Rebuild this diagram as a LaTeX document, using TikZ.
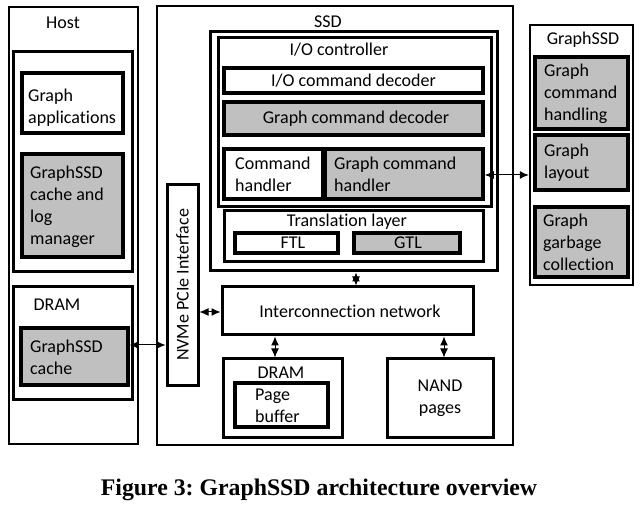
\documentclass[tikz,border=0pt]{standalone}
\usepackage{fontspec}
\setmainfont{Carlito}[Ligatures=NoCommon]
\newfontfamily\capfont{Liberation Serif}
\usetikzlibrary{arrows.meta,fit}
\definecolor{boxgray}{RGB}{192,192,192}
\frenchspacing
\begin{document}
\begin{tikzpicture}[x=1pt,y=-1pt,
  outerbox/.style={draw, line width=2.4pt, inner sep=0pt},
  midbox/.style={draw, line width=3pt, inner sep=0pt},
  leafbox/.style={draw, line width=3.6pt, inner sep=0pt, fill=white},
  graybox/.style={leafbox, fill=boxgray},
  lbl/.style={font=\fontsize{18}{22}\selectfont, inner sep=0pt, align=left},
  biarrow/.style={{Latex[length=9pt,width=8pt]}-{Latex[length=9pt,width=8pt]}, line width=1pt}
]
\useasboundingbox (0,0) rectangle (641,508);

% ---------------- Host ----------------
\node[outerbox, fit={(9,7) (138,444)}] (host) {};
\node[lbl] (hostlbl) at (63,23) {Host};
\node[midbox, fit={(13,52) (132,272)}] (hostsw) {};
\node[leafbox, fit={(22,73) (123,133)}] (gapps) {};
\node[lbl, anchor=west] (gappslbl) at (28,108) {Graph\\applications};
\node[graybox, fit={(22,154) (123,257)}] (gclog) {};
\node[lbl, anchor=west] (gcloglbl) at (30,207) {GraphSSD\\cache and\\log\\manager};
\node[midbox, fit={(13,287) (132,399)}] (hdram) {};
\node[lbl] (hdramlbl) at (57,305) {DRAM};
\node[graybox, fit={(21,328) (128,385)}] (gcache) {};
\node[lbl, anchor=west] (gcachelbl) at (30,357) {GraphSSD\\cache};

% ---------------- SSD ----------------
\node[outerbox, fit={(157,6) (513,445)}] (ssd) {};
\node[lbl] (ssdlbl) at (328,22) {SSD};
\node[midbox, fit={(210,32) (497,271)}] (iocout) {};
\node[midbox, fit={(218,38) (491,207)}] (iocin) {};
\node[lbl] (ioclbl) at (339,50) {I/O controller};
\node[leafbox, fit={(224,68) (483,93)}] (iodec) {};
\node[lbl] (iodeclbl) at (353.5,80.5) {I/O command decoder};
\node[graybox, fit={(224,102) (483,135)}] (gdec) {};
\node[lbl] (gdeclbl) at (356,118.5) {Graph command decoder};
\node[leafbox, fit={(224,149) (323,199)}] (cmdh) {};
\node[lbl, anchor=west] (cmdhlbl) at (235,174) {Command\\handler};
\node[graybox, fit={(325,149) (483,199)}] (gcmdh) {};
\node[lbl, anchor=west] (gcmdhlbl) at (334,174) {Graph command\\handler};
\node[midbox, fit={(224,211) (483,262)}] (tl) {};
\node[lbl] (tllbl) at (347,222) {Translation layer};
\node[leafbox, fit={(235,233) (338,253)}] (ftl) {};
\node[lbl] (ftllbl) at (293,243) {FTL};
\node[graybox, fit={(354,233) (460,253)}] (gtl) {};
\node[lbl] (gtllbl) at (408,243) {GTL};

\node[midbox, fit={(167,185) (198,385)}] (nvme) {};
\node[lbl, rotate=90] (nvmelbl) at (182.5,285) {NVMe PCIe Interface};

\node[midbox, fit={(222,287) (473,335)}] (icn) {};
\node[lbl] (icnlbl) at (350,311) {Interconnection network};

\node[midbox, fit={(223,359) (342,437)}] (sdram) {};
\node[lbl] (sdramlbl) at (281,373) {DRAM};
\node[leafbox, fit={(235,383) (328,427)}] (pbuf) {};
\node[lbl, anchor=west] (pbuflbl) at (255,406) {Page\\buffer};

\node[midbox, fit={(387,359) (493,437)}] (nand) {};
\node[lbl, align=center] (nandlbl) at (440,398) {NAND\\pages};

% ---------------- GraphSSD ----------------
\node[outerbox, fit={(530,25) (633,285)}] (gssd) {};
\node[lbl] (gssdlbl) at (583,40) {GraphSSD};
\node[graybox, fit={(535,57) (628,129)}] (gch) {};
\node[lbl, anchor=west] (gchlbl) at (544,94) {Graph\\command\\handling};
\node[graybox, fit={(535,135) (628,190)}] (gl) {};
\node[lbl, anchor=west] (gllbl) at (544,163) {Graph\\layout};
\node[graybox, fit={(535,207) (628,277)}] (ggc) {};
\node[lbl, anchor=west] (ggclbl) at (543,242) {Graph\\garbage\\collection};

% ---------------- connectors ----------------
\coordinate (ya) at (0,345);
\coordinate (yb) at (0,312);
\coordinate (yc) at (0,175);
\coordinate (xa) at (356,0);
\coordinate (xb) at (275,0);
\coordinate (xc) at (444,0);
\draw[biarrow] (gcache.east |- ya) -- (nvme.west |- ya);
\draw[biarrow] (nvme.east |- yb) -- (icn.west |- yb);
\draw[biarrow] (iocout.south -| xa) -- (icn.north -| xa);
\draw[biarrow] (icn.south -| xb) -- (sdram.north -| xb);
\draw[biarrow] (icn.south -| xc) -- (nand.north -| xc);
\draw[biarrow] (gcmdh.east |- yc) -- (gssd.west |- yc);

% ---------------- caption ----------------
\node[font=\capfont\bfseries\fontsize{23.8}{28}\selectfont, inner sep=0pt] (cap) at (319,490) {Figure 3: GraphSSD architecture overview};
\end{tikzpicture}
\end{document}
